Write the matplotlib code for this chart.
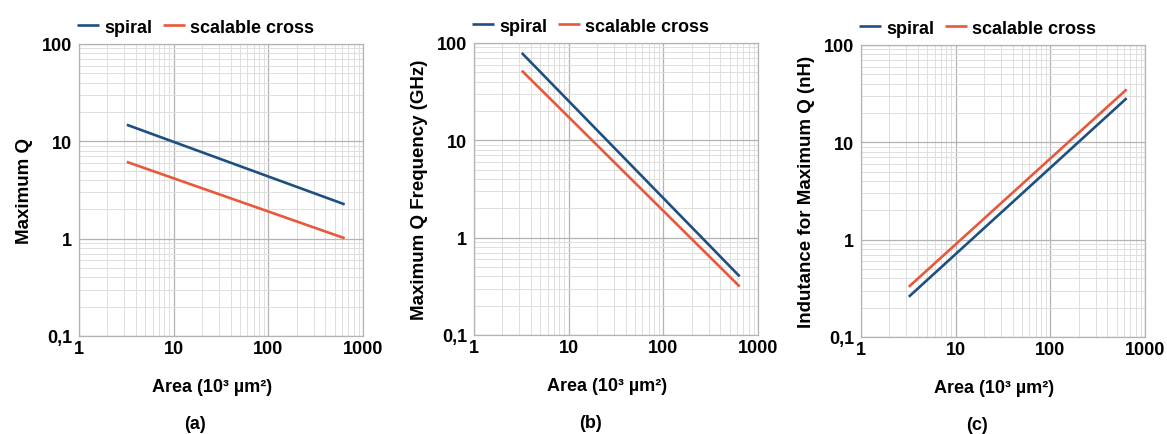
import numpy as np
import matplotlib
matplotlib.use("Agg")
import matplotlib.pyplot as plt
from matplotlib.ticker import FixedLocator, FixedFormatter, LogLocator, NullFormatter

plt.rcParams['font.family'] = ['Liberation Sans', 'DejaVu Sans']
plt.rcParams['font.weight'] = 'bold'

# data (straight lines in log-log)
area = [3.2, 640]
q_spiral = [14.8, 2.25]
q_cross = [6.15, 1.01]
freq_spiral = [79, 0.40]
freq_cross = [52, 0.315]
ind_spiral = [0.259, 28.4]
ind_cross = [0.328, 35]

ylabels = ['Maximum Q', 'Maximum Q Frequency (GHz)', 'Indutance for Maximum Q (nH)']
panels = ['(a)', '(b)', '(c)']
series = [(q_spiral, q_cross), (freq_spiral, freq_cross), (ind_spiral, ind_cross)]

xticks = [1, 10, 100, 1000]
xticklabels = ['1', '10', '100', '1000']
yticks = [0.1, 1, 10, 100]
yticklabels = ['0,1', '1', '10', '100']

blue = '#1f4f80'
orange = '#e8583a'

fig = plt.figure(figsize=(11.67, 4.35), dpi=100)
lefts = [79, 474, 861]
bottoms = [337, 336, 338]

for i in range(3):
    l = lefts[i] / 1167
    b = 1 - bottoms[i] / 435
    ax = fig.add_axes([l, b, 284 / 1167, 292 / 435])
    s, c = series[i]
    ax.plot(area, s, color=blue, lw=1.9, label='spiral', solid_capstyle='butt')
    ax.plot(area, c, color=orange, lw=1.9, label='scalable cross', solid_capstyle='butt')
    ax.set_xscale('log')
    ax.set_yscale('log')
    ax.set_xlim(1, 1000)
    ax.set_ylim(0.1, 100)
    ax.xaxis.set_major_locator(FixedLocator(xticks))
    ax.xaxis.set_major_formatter(FixedFormatter(xticklabels))
    ax.yaxis.set_major_locator(FixedLocator(yticks))
    ax.yaxis.set_major_formatter(FixedFormatter(yticklabels))
    ax.xaxis.set_minor_locator(LogLocator(base=10, subs=np.arange(2, 10)))
    ax.yaxis.set_minor_locator(LogLocator(base=10, subs=np.arange(2, 10)))
    ax.xaxis.set_minor_formatter(NullFormatter())
    ax.yaxis.set_minor_formatter(NullFormatter())
    ax.grid(which='major', color='#b3b3b3', lw=0.9)
    ax.grid(which='minor', color='#dedede', lw=0.7)
    ax.set_axisbelow(True)
    ax.tick_params(which='both', length=0, labelsize=13)
    ax.tick_params(axis='y', pad=5)
    ax.tick_params(axis='x', pad=3)
    for sp in ax.spines.values():
        sp.set_color('#b3b3b3')
        sp.set_linewidth(0.9)
    ax.set_xlabel('Area (10³ µm²)', fontsize=13, fontweight='bold')
    ax.xaxis.set_label_coords(0.47, -0.145)
    ax.set_ylabel(ylabels[i], fontsize=13.5, fontweight='bold', labelpad=6)
    ax.legend(loc='lower left', bbox_to_anchor=(-0.025, 1.01), ncol=2, frameon=False,
              fontsize=13, handlelength=1.2, handletextpad=0.3, columnspacing=0.6,
              borderpad=0.2, borderaxespad=0.1)
    ax.text(0.41, -0.27, panels[i], transform=ax.transAxes, ha='center', va='top',
            fontsize=13, fontweight='bold')

fig.savefig('out.png', dpi=100, facecolor='white')
